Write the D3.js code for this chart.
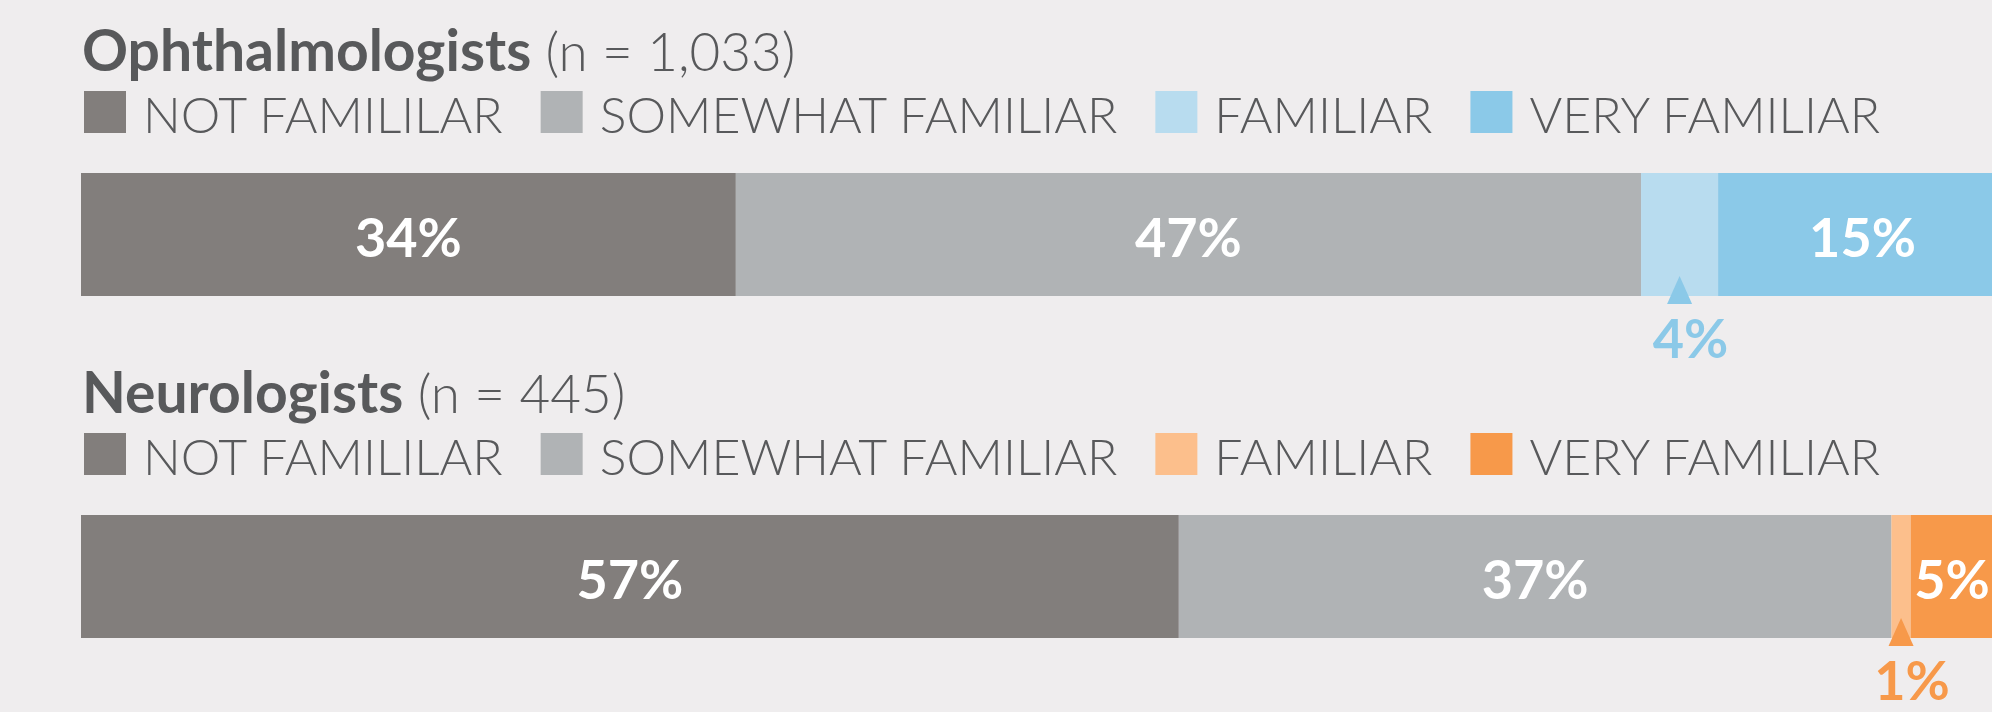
<!DOCTYPE html>
<html>
<head>
<meta charset="utf-8">
<script src="https://cdn.jsdelivr.net/npm/d3@7"></script>
<style>
  html, body { margin: 0; padding: 0; background: #efedee; }
  svg { display: block; font-family: "Lato", "Open Sans", sans-serif; }
</style>
</head>
<body>
<div id="chart"></div>
<script>
// Data
const groups = ["Ophthalmologists", "Neurologists"];
const sampleSizes = ["1,033", "445"];
const categories = ["NOT FAMILILAR", "SOMEWHAT FAMILIAR", "FAMILIAR", "VERY FAMILIAR"];
const ophthalmologistValues = [34, 47, 4, 15];
const neurologistValues = [57, 37, 1, 5];
const ophthalmologistColors = ["#827e7c", "#b0b3b5", "#b8dcef", "#8bc9e8"];
const neurologistColors = ["#827e7c", "#b0b3b5", "#fcbf8c", "#f7994a"];

const seriesValues = [ophthalmologistValues, neurologistValues];
const seriesColors = [ophthalmologistColors, neurologistColors];

const width = 1992;
const height = 712;
const textColor = "#58595b";

// Skala: 0-100 % čez celotno širino (desni rob je odrezan)
const xScale = d3.scaleLinear()
    .domain([0, 100])
    .range([81, 2007]);

// Skupine navpično
const yGroup = d3.scalePoint()
    .domain(groups)
    .range([0, 342]);

const svg = d3.select("#chart")
    .append("svg")
    .attr("width", width)
    .attr("height", height);

svg.append("rect")
    .attr("width", width)
    .attr("height", height)
    .attr("fill", "#efedee");

groups.forEach((group, gi) => {
    const g = svg.append("g")
        .attr("transform", `translate(0,${yGroup(group)})`);
    const values = seriesValues[gi];
    const colors = seriesColors[gi];

    // Naslov
    const title = g.append("text")
        .attr("x", 82)
        .attr("y", 71)
        .attr("fill", textColor);
    title.append("tspan")
        .attr("font-weight", 700)
        .style("font-size", "57px")
        .text(group);
    title.append("tspan")
        .attr("font-weight", 300)
        .style("font-size", "53px")
        .text(` (n = ${sampleSizes[gi]})`);

    // Legenda
    let lx = 84;
    categories.forEach((cat, ci) => {
        g.append("rect")
            .attr("x", lx)
            .attr("y", 91)
            .attr("width", 42)
            .attr("height", 42)
            .attr("fill", colors[ci]);
        const t = g.append("text")
            .attr("x", lx + 59)
            .attr("y", 133)
            .attr("fill", textColor)
            .attr("font-weight", 300)
            .style("font-size", "50px")
            .text(cat);
        lx += 59 + t.node().getComputedTextLength() + 38;
    });

    // Stolpci
    const stacked = [];
    let acc = 0;
    values.forEach((v, i) => {
        stacked.push({ value: v, x0: acc, x1: acc + v, color: colors[i], i });
        acc += v;
    });

    const barTop = 173;
    const barH = 123;

    g.selectAll(".seg")
        .data(stacked)
        .enter()
        .append("rect")
        .attr("class", "seg")
        .attr("x", d => xScale(d.x0))
        .attr("y", barTop)
        .attr("width", d => xScale(d.x1) - xScale(d.x0))
        .attr("height", barH)
        .attr("fill", d => d.color);

    // Oznake v stolpcih
    g.selectAll(".label")
        .data(stacked.filter(d => d.value >= 5))
        .enter()
        .append("text")
        .attr("class", "label")
        .attr("x", d => Math.min((xScale(d.x0) + xScale(d.x1)) / 2, width - 40))
        .attr("y", barTop + 84)
        .attr("text-anchor", "middle")
        .attr("fill", "#ffffff")
        .attr("font-weight", 700)
        .style("font-size", "54px")
        .text(d => d.value + "%");

    // Majhni deleži: puščica in oznaka pod stolpcem
    const small = stacked.filter(d => d.value < 5);
    small.forEach(d => {
        const cx = (xScale(d.x0) + xScale(d.x1)) / 2;
        g.append("path")
            .attr("d", `M${cx},${barTop + 103} L${cx + 12.5},${barTop + 131} L${cx - 12.5},${barTop + 131} Z`)
            .attr("fill", colors[3]);
        g.append("text")
            .attr("x", cx + 11)
            .attr("y", barTop + 185)
            .attr("text-anchor", "middle")
            .attr("fill", colors[3])
            .attr("font-weight", 700)
            .style("font-size", "54px")
            .text(d.value + "%");
    });
});
</script>
</body>
</html>
